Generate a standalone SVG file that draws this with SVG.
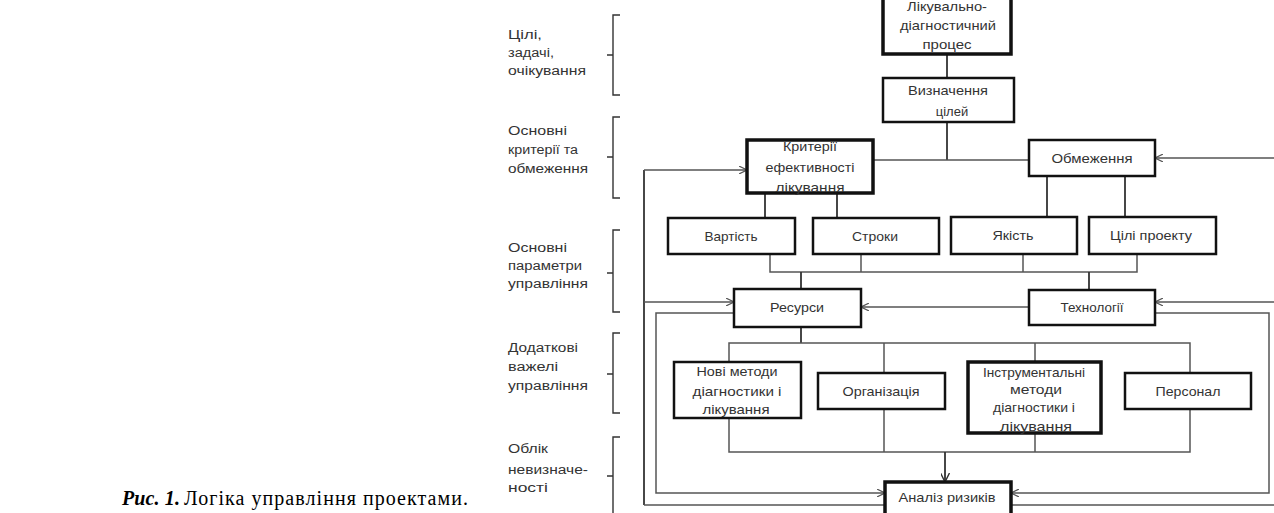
<svg xmlns="http://www.w3.org/2000/svg" width="1274" height="513" viewBox="0 0 1274 513">
<defs>
<marker id="arr" viewBox="0 0 10 10" refX="10" refY="5" markerWidth="8" markerHeight="8" markerUnits="userSpaceOnUse" orient="auto">
<path d="M0,0 L10,5 L0,10" fill="none" stroke="#555" stroke-width="1.4"/>
</marker>
<marker id="arrd" viewBox="0 0 10 10" refX="10" refY="5" markerWidth="9" markerHeight="9" markerUnits="userSpaceOnUse" orient="auto">
<path d="M0,0 L10,5 L0,10" fill="none" stroke="#333" stroke-width="1.6"/>
</marker>
</defs>
<style>
.box{fill:#fff;stroke:#111;stroke-width:2.5}
.thick{stroke-width:3.5}
.t{font-family:"Liberation Sans",Arial,sans-serif;font-size:13px;fill:#333;text-anchor:middle}
.lbl{font-family:"Liberation Sans",Arial,sans-serif;font-size:12.5px;fill:#333}
.c{fill:none;stroke:#555;stroke-width:1.5}
.cd{fill:none;stroke:#333;stroke-width:1.8}
.br{fill:none;stroke:#333;stroke-width:1.4}
.cap{font-family:"Liberation Serif","Times New Roman",serif;font-size:20px;fill:#000}
</style>
<rect width="1274" height="513" fill="#fff"/>

<g id="caption">
<text class="cap" x="122" y="505"><tspan font-weight="bold" font-style="italic" textLength="58" lengthAdjust="spacing">Рис. 1.</tspan><tspan x="184" textLength="284" lengthAdjust="spacing">Логіка управління проектами.</tspan></text>
</g>

<g id="labels">
<text class="lbl" x="508" y="39" textLength="34" lengthAdjust="spacingAndGlyphs">Цілі,</text>
<text class="lbl" x="508" y="57" textLength="46" lengthAdjust="spacingAndGlyphs">задачі,</text>
<text class="lbl" x="508" y="75" textLength="78" lengthAdjust="spacingAndGlyphs">очікування</text>
<text class="lbl" x="508" y="135" textLength="59" lengthAdjust="spacingAndGlyphs">Основні</text>
<text class="lbl" x="508" y="154" textLength="70" lengthAdjust="spacingAndGlyphs">критерії та</text>
<text class="lbl" x="508" y="173" textLength="80" lengthAdjust="spacingAndGlyphs">обмеження</text>
<text class="lbl" x="508" y="252" textLength="59" lengthAdjust="spacingAndGlyphs">Основні</text>
<text class="lbl" x="508" y="270" textLength="74" lengthAdjust="spacingAndGlyphs">параметри</text>
<text class="lbl" x="508" y="288" textLength="80" lengthAdjust="spacingAndGlyphs">управління</text>
<text class="lbl" x="508" y="352" textLength="70" lengthAdjust="spacingAndGlyphs">Додаткові</text>
<text class="lbl" x="508" y="371" textLength="50" lengthAdjust="spacingAndGlyphs">важелі</text>
<text class="lbl" x="508" y="390" textLength="80" lengthAdjust="spacingAndGlyphs">управління</text>
<text class="lbl" x="508" y="453" textLength="40" lengthAdjust="spacingAndGlyphs">Облік</text>
<text class="lbl" x="508" y="474" textLength="80" lengthAdjust="spacingAndGlyphs">невизначе-</text>
<text class="lbl" x="508" y="492" textLength="40" lengthAdjust="spacingAndGlyphs">ності</text>
</g>

<g id="braces">
<path class="br" d="M620,15 H613 V95 H620 M613,55 H607"/>
<path class="br" d="M620,117 H613 V198 H620 M613,157 H607"/>
<path class="br" d="M620,230 H613 V312 H620 M613,273 H607"/>
<path class="br" d="M620,333 H613 V413 H620 M613,374 H607"/>
<path class="br" d="M620,437 H613 V513 M613,476 H607"/>
</g>

<g id="connectors">
<path class="cd" d="M947,55 V78"/>
<path class="cd" d="M947,122 V160"/>
<path class="c" d="M873,160 H1029"/>
<path class="cd" d="M765,193 V218 M837,193 V218"/>
<path class="cd" d="M1047,176 V217 M1125,176 V217"/>
<path class="c" d="M770,254 V272 H1137 V254 M861,254 V272 M1023,254 V272"/>
<path class="cd" d="M801,272 V289 M1089,272 V290"/>
<path class="c" d="M1029,307 H861" marker-end="url(#arr)"/>
<path class="cd" d="M801,327 V343"/>
<path class="c" d="M729,362 V343 H1190 V373 M884,343 V373 M1035,343 V362"/>
<path class="c" d="M729,418 V452 H1190 V409 M884,409 V452 M1035,433 V452"/>
<path class="cd" d="M945,452 V482" marker-end="url(#arrd)"/>
<path class="cd" d="M644,505 V170"/>
<path class="c" d="M644,505 H1274"/>
<path class="c" d="M644,170 H747" marker-end="url(#arr)"/>
<path class="c" d="M644,302 H734" marker-end="url(#arr)"/>
<path class="c" d="M1274,158 H1155" marker-end="url(#arr)"/>
<path class="c" d="M1274,302 H1155" marker-end="url(#arr)"/>
<path class="c" d="M734,313 H656 V493 H885" marker-end="url(#arr)"/>
<path class="c" d="M1155,313 H1269 V493 H1011" marker-end="url(#arr)"/>
</g>

<g id="n-process">
<rect class="box thick" x="883" y="-4" width="128" height="58"/>
<text class="t" x="947" y="11" textLength="80" lengthAdjust="spacingAndGlyphs">Лікувально-</text>
<text class="t" x="948" y="30" textLength="96" lengthAdjust="spacingAndGlyphs">діагностичний</text>
<text class="t" x="947" y="49" textLength="49" lengthAdjust="spacingAndGlyphs">процес</text>
</g>

<g id="n-goals">
<rect class="box" x="883" y="78" width="131" height="44"/>
<text class="t" x="948" y="95" textLength="80" lengthAdjust="spacingAndGlyphs">Визначення</text>
<text class="t" x="952" y="116">цілей</text>
</g>

<g id="n-criteria">
<rect class="box thick" x="747" y="140" width="126" height="53"/>
<text class="t" x="810" y="151" textLength="54" lengthAdjust="spacingAndGlyphs">Критерії</text>
<text class="t" x="810" y="172" textLength="89" lengthAdjust="spacingAndGlyphs">ефективності</text>
<text class="t" x="810" y="192" textLength="69" lengthAdjust="spacingAndGlyphs">лікування</text>
</g>

<g id="n-limits">
<rect class="box" x="1029" y="140" width="126" height="36"/>
<text class="t" x="1092" y="163" textLength="81" lengthAdjust="spacingAndGlyphs">Обмеження</text>
</g>

<g id="n-cost">
<rect class="box" x="668" y="218" width="127" height="36"/>
<text class="t" x="731" y="241" textLength="53" lengthAdjust="spacingAndGlyphs">Вартість</text>
</g>

<g id="n-terms">
<rect class="box" x="813" y="218" width="126" height="36"/>
<text class="t" x="875" y="241" textLength="46" lengthAdjust="spacingAndGlyphs">Строки</text>
</g>

<g id="n-quality">
<rect class="box" x="951" y="217" width="126" height="37"/>
<text class="t" x="1013" y="240" textLength="41" lengthAdjust="spacingAndGlyphs">Якість</text>
</g>

<g id="n-projgoals">
<rect class="box" x="1089" y="217" width="127" height="37"/>
<text class="t" x="1151" y="240" textLength="82" lengthAdjust="spacingAndGlyphs">Цілі проекту</text>
</g>

<g id="n-resources">
<rect class="box" x="734" y="289" width="127" height="38"/>
<text class="t" x="797" y="312" textLength="54" lengthAdjust="spacingAndGlyphs">Ресурси</text>
</g>

<g id="n-tech">
<rect class="box" x="1029" y="290" width="126" height="35"/>
<text class="t" x="1092" y="312" textLength="63" lengthAdjust="spacingAndGlyphs">Технології</text>
</g>

<g id="n-newmethods">
<rect class="box" x="674" y="362" width="127" height="56"/>
<text class="t" x="737" y="376" textLength="81" lengthAdjust="spacingAndGlyphs">Нові методи</text>
<text class="t" x="737" y="396" textLength="89" lengthAdjust="spacingAndGlyphs">діагностики і</text>
<text class="t" x="736" y="414" textLength="67" lengthAdjust="spacingAndGlyphs">лікування</text>
</g>

<g id="n-org">
<rect class="box" x="818" y="373" width="127" height="36"/>
<text class="t" x="881" y="396" textLength="77" lengthAdjust="spacingAndGlyphs">Організація</text>
</g>

<g id="n-instr">
<rect class="box thick" x="968" y="362" width="133" height="71"/>
<text class="t" x="1034" y="377" textLength="102" lengthAdjust="spacingAndGlyphs">Інструментальні</text>
<text class="t" x="1036" y="394" textLength="52" lengthAdjust="spacingAndGlyphs">методи</text>
<text class="t" x="1034" y="412" textLength="82" lengthAdjust="spacingAndGlyphs">діагностики і</text>
<text class="t" x="1036" y="431" textLength="72" lengthAdjust="spacingAndGlyphs">лікування</text>
</g>

<g id="n-personnel">
<rect class="box" x="1125" y="373" width="126" height="36"/>
<text class="t" x="1188" y="396" textLength="65" lengthAdjust="spacingAndGlyphs">Персонал</text>
</g>

<g id="n-risk">
<rect class="box thick" x="885" y="482" width="126" height="40"/>
<text class="t" x="947" y="502" textLength="97" lengthAdjust="spacingAndGlyphs">Аналіз ризиків</text>
</g>
</svg>
